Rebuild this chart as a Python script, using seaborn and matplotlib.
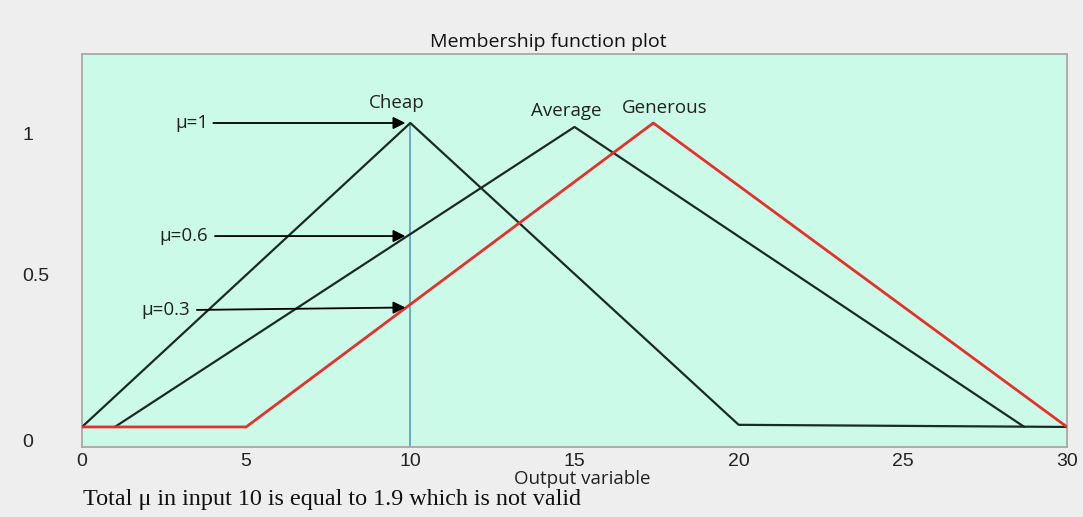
import matplotlib
matplotlib.use("Agg")
import matplotlib.pyplot as plt
import matplotlib.transforms as mtransforms
import pandas as pd
import seaborn as sns

# ---- data ----
cheap_x = [0, 10, 20, 30]
cheap_y = [0, 1.0, 0.007, 0]
average_x = [1, 15, 28.7]
average_y = [0, 0.987, 0]
generous_x = [0, 5, 17.4, 30]
generous_y = [0, 0, 1.0, 0]
set_names = ["Cheap", "Average", "Generous"]
set_label_x = [9.6, 14.75, 17.75]
set_label_y = [1.065, 1.04, 1.05]
input_x = 10
mu_labels = ["μ=1", "μ=0.6", "μ=0.3"]
mu_text_x = [3.85, 3.85, 3.3]
mu_start = [(4.0, 1.0), (4.05, 0.628), (3.5, 0.385)]
mu_end = [(9.85, 1.0), (9.85, 0.628), (9.85, 0.393)]
x_ticks = [0, 5, 10, 15, 20, 25, 30]
y_ticks = [0, 0.5, 1]
y_tick_labels = ["0", "0.5", "1"]
title = "Membership function plot"
x_label = "Output variable"
caption = "Total μ in input 10 is equal to 1.9 which is not valid"

sns.set_theme(style="white")
plt.rcParams["font.family"] = ["Open Sans", "DejaVu Sans"]

W, H = 1083, 517
fig = plt.figure(figsize=(W / 100, H / 100), dpi=100, facecolor="#eeeeee")
ax = fig.add_axes([82 / W, 1 - 447 / H, (1067 - 82) / W, (447 - 54) / H])
ax.set_facecolor("#cbfbe8")

black = "#1c2a24"
red = "#e4312b"

df_c = pd.DataFrame({"x": cheap_x, "y": cheap_y})
df_a = pd.DataFrame({"x": average_x, "y": average_y})
df_g = pd.DataFrame({"x": generous_x, "y": generous_y})

ylo, yhi = -0.066, 1.227
ax.plot([input_x, input_x], [1.0, ylo], color="#6ea8c9", lw=1.4, zorder=2)
sns.lineplot(data=df_c, x="x", y="y", sort=False, estimator=None, color=black, lw=1.6, ax=ax, zorder=3)
sns.lineplot(data=df_a, x="x", y="y", sort=False, estimator=None, color=black, lw=1.6, ax=ax, zorder=3)
sns.lineplot(data=df_g, x="x", y="y", sort=False, estimator=None, color=red, lw=2.0, ax=ax, zorder=4)

for name, lx, ly in zip(set_names, set_label_x, set_label_y):
    ax.text(lx, ly, name, ha="center", va="center", fontsize=13.5, color="#222222")

for lab, tx, s, e in zip(mu_labels, mu_text_x, mu_start, mu_end):
    ax.text(tx, s[1], lab, ha="right", va="center", fontsize=13.5, color="#222222")
    ax.annotate("", xy=e, xytext=s,
                arrowprops=dict(arrowstyle="-|>", color="black", lw=1.3, mutation_scale=18,
                                shrinkA=0, shrinkB=0), zorder=5)

ax.set_xlim(0, 30)
ax.set_ylim(ylo, yhi)
ax.set_xticks(x_ticks)
ax.set_xticklabels([str(t) for t in x_ticks], family="Liberation Sans", fontsize=14, color="#222222")
ax.set_yticks(y_ticks)
ax.set_yticklabels(y_tick_labels, family="Liberation Sans", fontsize=14, color="#222222", ha="left")
ax.tick_params(axis="x", direction="in", length=7, width=1, color="#8a8a8a", pad=4)
ax.tick_params(axis="y", direction="in", length=7, width=1, color="#8a8a8a", pad=43)
# the reference draws the "0" and "1" labels a little below their ticks
shifts = {"0": -14, "1": -11}
for lab in ax.get_yticklabels():
    dy = shifts.get(lab.get_text(), 0)
    if dy:
        lab.set_transform(lab.get_transform() + mtransforms.ScaledTranslation(0, dy / 100, fig.dpi_scale_trans))
for sp in ax.spines.values():
    sp.set_color("#a8a8a8")
    sp.set_linewidth(1.3)

ax.set_xlabel(x_label, fontsize=13.5, color="#222222")
ax.set_ylabel("")
ax.xaxis.set_label_coords((582 - 82) / (1067 - 82), -0.059)

fig.text(548 / W, 1 - 42 / H, title, ha="center", va="center", fontsize=14, color="#111111")
fig.text(83 / W, 1 - 500 / H, caption, ha="left", va="center", fontsize=17.4,
         family=["Liberation Serif", "DejaVu Serif"], color="#111111")

fig.savefig("out.png", dpi=100, facecolor=fig.get_facecolor())
